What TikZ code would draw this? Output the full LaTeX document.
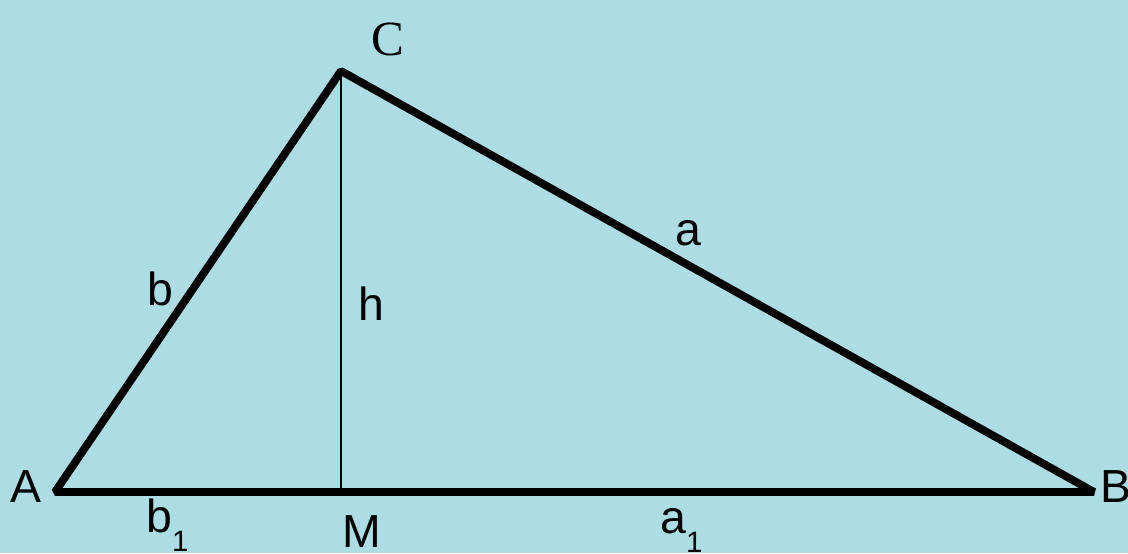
\documentclass[tikz,border=0pt]{standalone}
\usepackage{fontspec}
\setmainfont{Liberation Serif}
\newfontfamily\arialfont{Liberation Sans}
\definecolor{waterblue}{RGB}{172,220,228}
\newcommand{\lowone}{\raisebox{-0.42em}{\fontsize{21}{21}\selectfont 1}}
\tikzset{
  side/.style={line width=5.6pt, line join=bevel},
  lbl/.style={font=\arialfont\fontsize{33}{33}\selectfont, inner sep=0pt, anchor=base},
}
\begin{document}
\begin{tikzpicture}[x=0.025cm,y=-0.025cm]
\useasboundingbox (0,0) rectangle (1128,553);
\fill[waterblue] (0,0) rectangle (1128,553);
\coordinate (A) at (55,492);
\coordinate (B) at (1094,492);
\coordinate (C) at (341,71);
\coordinate (M) at (341,492);
\draw[line width=1.5pt] (C) -- (M); % height
\draw[side] (A) -- (B) -- (C) -- cycle;
\node[lbl] (la) at (26,502) {A};
\node[lbl, anchor=base west] (lb) at (1100,502) {B};
\node[inner sep=0pt, anchor=base, font=\fontsize{35}{35}\selectfont] (lc) at (388,55) {C};
\node[lbl] (lm) at (362,547) {M};
\node[lbl] (sa) at (688,245) {a};
\node[lbl] (sb) at (160,305) {b};
\node[lbl] (sh) at (371,320) {h};
\node[lbl, anchor=base west] (sb1) at (146,532) {b\lowone};
\node[lbl, anchor=base west] (sa1) at (660,533) {a\lowone};
\end{tikzpicture}
\end{document}
